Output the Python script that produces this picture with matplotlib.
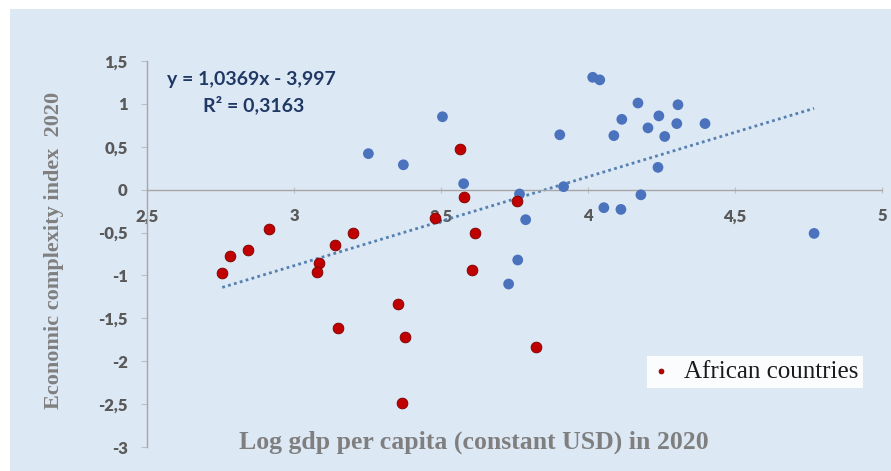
import numpy as np
import matplotlib.pyplot as plt
from matplotlib.patches import Rectangle
from matplotlib.ticker import FuncFormatter, MultipleLocator

# African countries: log GDP per capita vs ECI 2020
africa_gdp = [2.916, 3.202, 3.481, 2.783, 2.844, 2.756, 3.141, 3.086, 3.079,
              3.355, 3.151, 3.379, 3.369, 3.566, 3.577, 3.614, 3.607, 3.757,
              3.822]
africa_eci = [-0.455, -0.50, -0.33, -0.77, -0.70, -0.97, -0.64, -0.85, -0.96,
              -1.33, -1.61, -1.72, -2.49, 0.47, -0.09, -0.51, -0.94, -0.13,
              -1.83]

# other countries
other_gdp = [3.253, 3.372, 3.505, 3.577, 3.767, 3.788, 3.761, 3.730, 3.917,
             3.904, 4.016, 4.040, 4.054, 4.112, 4.180, 4.238, 4.170, 4.306,
             4.115, 4.241, 4.302, 4.398, 4.204, 4.088, 4.261, 4.769]
other_eci = [0.42, 0.29, 0.85, 0.07, -0.05, -0.35, -0.82, -1.10, 0.035,
             0.64, 1.31, 1.28, -0.21, -0.23, -0.06, 0.26, 1.01, 0.99,
             0.82, 0.86, 0.77, 0.77, 0.72, 0.63, 0.62, -0.51]

# linear trend over all countries
slope = 1.0369
intercept = -3.997
r2 = 0.3163


def comma(v, pos):
    s = f"{v:g}"
    return s.replace('.', ',')


fig = plt.figure(figsize=(8.91, 4.71), dpi=100)
fig.patch.set_facecolor('white')
fig.patches.append(Rectangle((10 / 891, 0), 1, 1 - 9 / 471,
                             transform=fig.transFigure,
                             facecolor='#dde8f5', edgecolor='none',
                             zorder=-5))

ax = fig.add_axes([147 / 891, 1 - 447 / 471, 735 / 891, 386 / 471])
ax.set_facecolor('none')

all_gdp = np.array(africa_gdp + other_gdp)
xs = np.array([all_gdp.min(), all_gdp.max()])
ax.plot(xs, slope * xs + intercept, linestyle=(0, (1, 1.2)),
        color='#5580b0', linewidth=2.0, zorder=2)

ax.scatter(other_gdp, other_eci, s=60, color='#4a72bd', edgecolors='none',
           zorder=3)
ax.scatter(africa_gdp, africa_eci, s=60, color='#c00000',
           edgecolors='#7a0000', linewidths=0.6, zorder=4,
           label='African countries')

ax.set_xlim(2.5, 5)
ax.set_ylim(-3, 1.5)
ax.xaxis.set_major_locator(MultipleLocator(0.5))
ax.yaxis.set_major_locator(MultipleLocator(0.5))
ax.xaxis.set_major_formatter(FuncFormatter(comma))
ax.yaxis.set_major_formatter(FuncFormatter(comma))

ax.spines['top'].set_visible(False)
ax.spines['right'].set_visible(False)
ax.spines['bottom'].set_position(('data', 0))
for side in ('bottom', 'left'):
    ax.spines[side].set_color('#a6a6a6')
    ax.spines[side].set_linewidth(1.0)

ax.tick_params(axis='x', direction='inout', length=5, color='#bfbfbf',
               pad=11, labelsize=12, labelcolor='#595959')
ax.tick_params(axis='y', direction='out', length=4, color='#bfbfbf',
               pad=10, labelsize=12, labelcolor='#595959')
for lab in ax.get_xticklabels() + ax.get_yticklabels():
    lab.set_fontweight('heavy')
    lab.set_family('Lato')

fig.text(54 / 891, 1 - 250 / 471, 'Economic complexity index  2020',
         rotation=90, ha='center', va='center', fontsize=16,
         fontweight='bold', family='Liberation Serif', color='#7f7f7f')
fig.text(474 / 891, 1 - 442 / 471, 'Log gdp per capita (constant USD) in 2020',
         ha='center', va='center', fontsize=18.5, fontweight='bold',
         family='Liberation Serif', color='#7f7f7f')

ax.text(2.567, 1.28, f"y = {slope:.4f}x - {abs(intercept):.3f}".replace('.', ','),
        ha='left', va='center', fontsize=14, fontweight='bold',
        family='Lato', color='#1f3864')
ax.text(2.69, 0.99, f"R² = {r2:.4f}".replace('.', ','),
        ha='left', va='center', fontsize=14, fontweight='bold',
        family='Lato', color='#1f3864')

leg = ax.legend(loc='lower right', bbox_to_anchor=(863 / 891, 83 / 471),
                bbox_transform=fig.transFigure, frameon=True, fancybox=False,
                markerscale=0.45, handlelength=0.7, handletextpad=0.55,
                borderpad=0.2, borderaxespad=0,
                prop={'family': 'Liberation Serif', 'size': 18})
leg.get_frame().set_edgecolor('none')
leg.get_frame().set_facecolor('white')
leg.get_frame().set_alpha(0.9)
for t in leg.get_texts():
    t.set_color('#1a1a1a')

fig.savefig('out.png', dpi=100)
